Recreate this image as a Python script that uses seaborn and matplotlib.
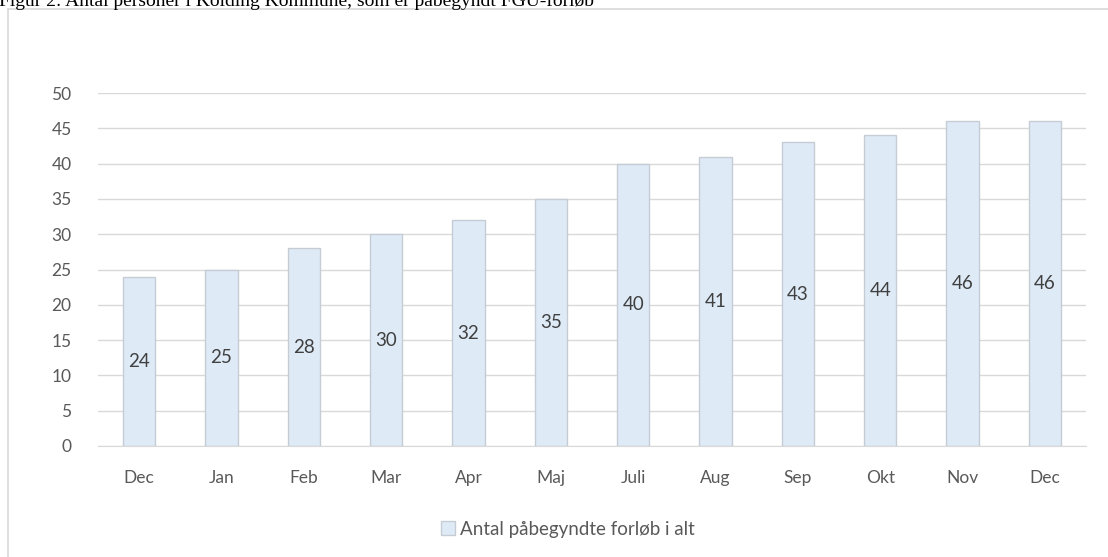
import pandas as pd
import seaborn as sns
import matplotlib.pyplot as plt
from matplotlib.patches import Rectangle, Patch

# Data
maaneder = ["Dec", "Jan", "Feb", "Mar", "Apr", "Maj", "Juli", "Aug", "Sep", "Okt", "Nov", "Dec"]
antal = [24, 25, 28, 30, 32, 35, 40, 41, 43, 44, 46, 46]
serie_navn = "Antal påbegyndte forløb i alt"
titel = "Figur 2: Antal personer i Kolding Kommune, som er påbegyndt FGU-forløb"

df = pd.DataFrame({"pos": range(len(maaneder)), "antal": antal})

sns.set_style("white")
plt.rcParams["font.family"] = ["Lato", "DejaVu Sans"]

W, H = 1108, 557
fig = plt.figure(figsize=(W / 100, H / 100), dpi=100)
ax = fig.add_axes([98 / W, 111 / H, (1086 - 98) / W, 353 / H])

bar_face = "#DEEBF7"
bar_edge = "#C5CCD4"
sns.barplot(data=df, x="pos", y="antal", color=bar_face, edgecolor=bar_edge,
            linewidth=1, width=0.39, saturation=1, ax=ax)

ax.set_ylim(0, 50)
ax.set_yticks(range(0, 51, 5))
ax.set_xlim(-0.5, len(maaneder) - 0.5)
ax.set_xticks(range(len(maaneder)))
ax.set_xticklabels(maaneder)
ax.set_xlabel("")
ax.set_ylabel("")

ax.grid(axis="y", color="#D9D9D9", linewidth=1)
ax.set_axisbelow(True)
for s in ["left", "right", "top"]:
    ax.spines[s].set_visible(False)
ax.spines["bottom"].set_color("#D9D9D9")
ax.tick_params(axis="both", length=0, labelsize=12.5, labelcolor="#595959")
ax.tick_params(axis="x", pad=17)
ax.tick_params(axis="y", pad=19)

for c in ax.containers:
    ax.bar_label(c, label_type="center", fontsize=13.5, color="#404040")

# legend below the plot
handle = Patch(facecolor=bar_face, edgecolor=bar_edge, linewidth=1)
fig.legend([handle], [serie_navn], loc="center", bbox_to_anchor=(568 / W, 1 - 529 / H),
           frameon=False, fontsize=13.5, labelcolor="#595959",
           handlelength=0.75, handleheight=0.75, handletextpad=0.3)

# chart frame (runs off the right and bottom edges)
fig.patches.append(Rectangle((8 / W, -0.05), 1.1, 1 - 9 / H + 0.05,
                             transform=fig.transFigure, fill=False,
                             edgecolor="#D9D9D9", linewidth=1.2))

# title, cut off at the top edge as in the source
fig.text(-1 / W, 1 - 5.5 / H, titel, family="Liberation Serif", fontsize=14,
         color="black", va="baseline", ha="left")

fig.savefig("out.png", dpi=100)
